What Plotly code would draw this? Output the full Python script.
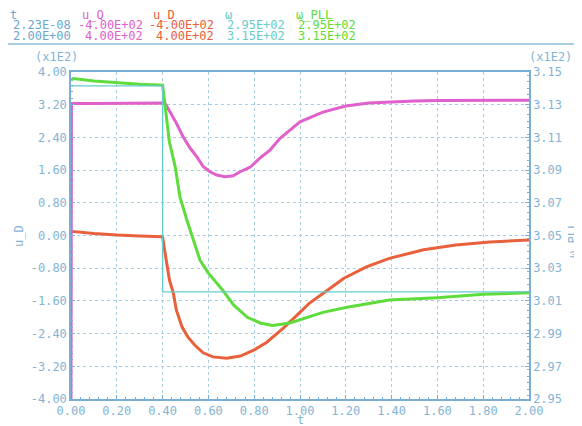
import plotly.graph_objects as go

# ---------------- data ----------------
t_uQ = [0.0, 0.002, 0.1, 0.2, 0.3, 0.4, 0.41, 0.432, 0.46, 0.49, 0.52, 0.549, 0.578, 0.607,
        0.636, 0.672, 0.708, 0.738, 0.782, 0.826, 0.869, 0.913, 0.956, 1.0, 1.1, 1.2,
        1.3, 1.4, 1.5, 1.6, 1.7, 1.8, 1.9, 2.0]
u_Q = [-400, 323, 323, 323, 323, 323, 324, 303, 275, 241, 214, 193, 168, 156,
       148, 144, 146, 156, 167, 190, 209, 238, 258, 278, 302, 317,
       324, 327, 329, 330, 330, 330, 331, 331]

t_uD = [0.0, 0.005, 0.1, 0.2, 0.3, 0.4, 0.41, 0.42, 0.43, 0.447, 0.46, 0.485, 0.51, 0.54,
        0.577, 0.62, 0.68, 0.74, 0.8, 0.855, 0.926, 0.987, 1.04, 1.12, 1.19, 1.29,
        1.39, 1.54, 1.68, 1.83, 2.0]
u_D = [12, 10, 5, 1, -1, -3, -40, -77, -109, -141, -182, -224, -248, -268,
       -287, -297, -300, -295, -280, -261, -227, -195, -166, -134, -105, -77,
       -56, -35, -23, -16, -11]

t_w = [0.0, 0.4, 0.4, 2.0]
w = [314.15, 314.15, 301.55, 301.55]

t_wPLL = [0.0, 0.01, 0.1, 0.2, 0.3, 0.4, 0.41, 0.42, 0.43, 0.455, 0.476, 0.506, 0.533,
          0.563, 0.6, 0.66, 0.71, 0.77, 0.826, 0.88, 0.956, 1.1, 1.2, 1.39, 1.6, 1.8, 2.0]
w_PLL = [314.5, 314.6, 314.45, 314.35, 314.25, 314.2, 313.0, 311.9, 310.7, 309.2, 307.35,
         305.95, 304.85, 303.5, 302.7, 301.7, 300.75, 300.0, 299.65, 299.5, 299.65,
         300.3, 300.6, 301.05, 301.2, 301.4, 301.5]

x_ticks = [0.0, 0.2, 0.4, 0.6, 0.8, 1.0, 1.2, 1.4, 1.6, 1.8, 2.0]
y1_ticks = [-400, -320, -240, -160, -80, 0, 80, 160, 240, 320, 400]
y2_ticks = [295, 297, 299, 301, 303, 305, 307, 309, 311, 313, 315]

header_names = ["t", "u_Q", "u_D", "ω", "ω_PLL"]
header_min = ["2.23E-08", "-4.00E+02", "-4.00E+02", "2.95E+02", "2.95E+02"]
header_max = ["2.00E+00", "4.00E+02", "4.00E+02", "3.15E+02", "3.15E+02"]

# ---------------- styling ----------------
C_T = "#6aa8d0"
C_Q = "#e060cc"
C_D = "#e8603c"
C_W = "#66cccc"
C_P = "#5edc3c"
AX = "#7aaed4"
TXT = "#84b4d4"
GRID = "#a8cce2"
FONT = "DejaVu Sans Mono"

OFF = 8                      # default body margin of the page
W, H = 582 - OFF, 426 - OFF  # figure fits inside the window
# plot-area edges in window pixels
L, R, T, B = 71, 529, 72, 399


def px(x):
    return (x - L) / (R - L)


def py(y):
    return (B - y) / (B - T)


fig = go.Figure()
fig.add_trace(go.Scatter(x=t_wPLL, y=w_PLL, yaxis="y2", mode="lines",
                         line=dict(color=C_P, width=3), name="ω_PLL"))
fig.add_trace(go.Scatter(x=t_w, y=w, yaxis="y2", mode="lines",
                         line=dict(color=C_W, width=1.4), name="ω"))
fig.add_trace(go.Scatter(x=t_uD, y=u_D, mode="lines",
                         line=dict(color=C_D, width=3), name="u_D"))
fig.add_trace(go.Scatter(x=t_uQ, y=u_Q, mode="lines",
                         line=dict(color=C_Q, width=3), name="u_Q"))

axis_common = dict(
    showline=True, linecolor=AX, linewidth=1.5,
    ticks="inside", ticklen=4, tickcolor=AX, tickwidth=1,
    showgrid=True, gridcolor=GRID, griddash="dot", gridwidth=1,
    zeroline=False,
    tickfont=dict(family=FONT, size=12, color=TXT),
)

fig.update_layout(
    width=W, height=H,
    margin=dict(l=L - OFF, r=582 - R, t=T - OFF, b=426 - B, pad=0, autoexpand=False),
    paper_bgcolor="white", plot_bgcolor="white",
    showlegend=False,
    font=dict(family=FONT, size=12, color=TXT),
    xaxis=dict(range=[0, 2], tickvals=x_ticks,
               ticktext=[f"{v:.2f}" for v in x_ticks], mirror=True,
               minor=dict(dtick=0.04, ticks="inside", ticklen=2, tickcolor=AX,
                          showgrid=False),
               **axis_common),
    yaxis=dict(range=[-400, 400], tickvals=y1_ticks,
               ticktext=[f"{v / 100:.2f}" for v in y1_ticks],
               minor=dict(dtick=16, ticks="inside", ticklen=2, tickcolor=AX,
                          showgrid=False),
               **axis_common),
    yaxis2=dict(range=[295, 315], tickvals=y2_ticks, overlaying="y", side="right",
                ticktext=[f"{v / 100:.2f}" for v in y2_ticks],
                minor=dict(dtick=0.4, ticks="inside", ticklen=2, tickcolor=AX,
                           showgrid=False),
                **{**axis_common, "showgrid": False}),
)

# header block (window pixel positions)
header_colors = [C_T, C_Q, C_D, C_W, C_P]
col_left = [8, 80, 151, 223, 294]
col_right = [73, 145, 216, 287, 358]
row_y = [15, 25, 35.5]
HF = 12
ann = []
for i, name in enumerate(header_names):
    ann.append(dict(text=name, x=px(col_left[i]), y=py(row_y[0]),
                    xref="paper", yref="paper", xanchor="left", yanchor="middle",
                    showarrow=False,
                    font=dict(family=FONT, size=HF, color=header_colors[i])))
    for row, txt in ((1, header_min[i]), (2, header_max[i])):
        ann.append(dict(text=txt, x=px(col_right[i]), y=py(row_y[row]),
                        xref="paper", yref="paper", xanchor="right", yanchor="middle",
                        showarrow=False,
                        font=dict(family=FONT, size=HF, color=header_colors[i])))

# axis annotations
ann.append(dict(text="(x1E2)", x=px(33), y=py(57), xref="paper", yref="paper",
                xanchor="left", yanchor="middle", showarrow=False,
                font=dict(family=FONT, size=12, color=TXT)))
ann.append(dict(text="(x1E2)", x=px(527), y=py(57), xref="paper", yref="paper",
                xanchor="left", yanchor="middle", showarrow=False,
                font=dict(family=FONT, size=12, color=TXT)))
ann.append(dict(text="u_D", x=px(19), y=py(236), xref="paper", yref="paper",
                xanchor="center", yanchor="middle", showarrow=False, textangle=-90,
                font=dict(family=FONT, size=12, color=TXT)))
ann.append(dict(text="ω_PLL", x=px(573), y=py(240), xref="paper", yref="paper",
                xanchor="center", yanchor="middle", showarrow=False, textangle=-90,
                font=dict(family=FONT, size=12, color=TXT)))
ann.append(dict(text="t", x=px(300), y=py(420), xref="paper", yref="paper",
                xanchor="center", yanchor="middle", showarrow=False,
                font=dict(family=FONT, size=12, color=TXT)))
fig.update_layout(annotations=ann)

# separator line below header
fig.add_shape(type="line", xref="paper", yref="paper",
              x0=px(7), x1=px(582), y0=py(44), y1=py(44),
              line=dict(color="#a8cce0", width=2))

fig.write_html("out.html")
